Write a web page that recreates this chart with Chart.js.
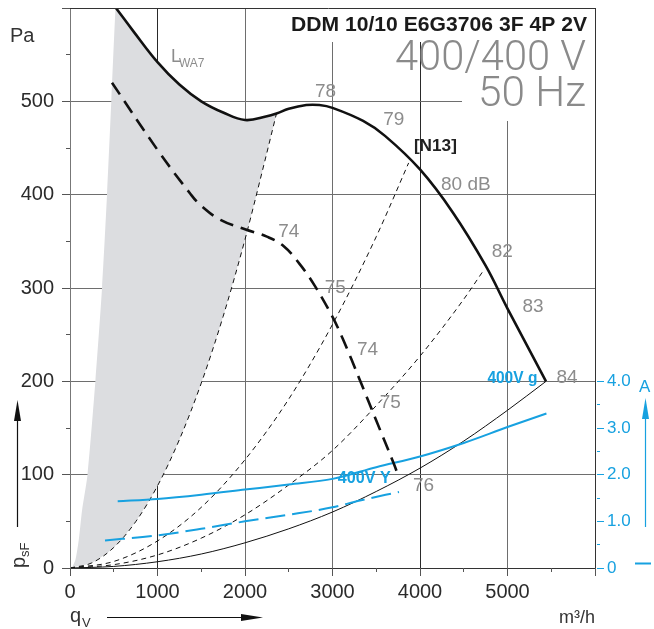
<!DOCTYPE html>
<html><head><meta charset="utf-8">
<script src="https://cdn.jsdelivr.net/npm/chart.js@4.4.1/dist/chart.umd.min.js"></script>
<style>html,body{margin:0;padding:0;background:#fff;}#wrap{width:654px;height:629px;}</style>
</head><body><div id="wrap"><canvas id="c" width="654" height="629"></canvas></div>
<script>
// ---- data ----
// fan curve, high speed (m3/h, Pa)
const flowMain  = [525, 725, 1000, 1250, 1500, 1750, 2000, 2250, 2360, 2500, 2700, 2850, 3000, 3350, 3600, 4000, 4375, 4750, 5000, 5440];
const pressMain = [600, 575, 542, 518, 500, 488, 480, 484, 487, 492, 496, 496, 493, 479, 463, 427, 381, 324, 278, 200];
// fan curve, low speed (dashed)
const flowLow  = [480, 1000, 1375, 1500, 1720, 2000, 2250, 2440, 2630, 2800, 3000, 3120, 3310, 3500, 3700, 3755];
const pressLow = [520, 448, 401, 388, 373, 363, 355, 345, 325, 302, 269, 245, 202, 158, 112, 98];
// system curves
const flowSysA  = [0, 250, 500, 750, 1000, 1250, 1500, 1750, 2000, 2200, 2360];
const pressSysA = [0, 5.5, 22, 49.5, 88, 137.5, 198, 269.5, 352, 426, 487];
const flowSysB  = [0, 500, 1000, 1500, 2000, 2500, 3000, 3500, 3870];
const pressSysB = [0, 7, 29, 65, 116, 181, 261, 355, 434];
const flowSysC  = [0, 500, 1000, 1500, 2000, 2500, 3000, 3500, 4000, 4500, 4720];
const pressSysC = [0, 3.6, 14, 32, 57, 89, 126, 174, 227, 288, 318];
const flowSysD  = [0, 500, 1000, 1500, 2000, 2500, 3000, 3500, 4000, 4500, 5000, 5440];
const pressSysD = [0, 1.7, 6.7, 15, 27, 42, 60, 82, 107, 136, 169, 200];
// left limit of the shaded (not permitted) zone
const flowLimit  = [0, 30, 63, 100, 138, 200, 290, 366, 423, 472, 520];
const pressLimit = [0, 2, 9, 30, 62, 100, 200, 300, 400, 500, 600];
// current (A)
const flowAmpHigh = [545, 1000, 1500, 2000, 2500, 3000, 3500, 4000, 4500, 5000, 5445];
const ampHigh     = [1.43, 1.48, 1.57, 1.68, 1.79, 1.91, 2.16, 2.39, 2.68, 3.02, 3.31];
const flowAmpLow  = [400, 1000, 1500, 2000, 2500, 3000, 3300, 3760];
const ampLow      = [0.59, 0.70, 0.84, 1.00, 1.14, 1.30, 1.44, 1.63];
// axis labels
const xTickLabels = [0, 1000, 2000, 3000, 4000, 5000];
const yTickLabels = [0, 100, 200, 300, 400, 500];
const ampTickLabels = [0, 1, 2, 3, 4];
// annotations
const dbLabels = [
  {t:'78', x:2800, y:505}, {t:'79', x:3580, y:475}, {t:'80 dB', x:4240, y:405},
  {t:'74', x:2380, y:355}, {t:'75', x:2910, y:295}, {t:'82', x:4820, y:333},
  {t:'83', x:5170, y:274}, {t:'74', x:3280, y:228}, {t:'75', x:3540, y:171},
  {t:'84', x:5560, y:198}, {t:'76', x:3920, y:82}
];

const BLUE = '#17a1e0', GRAYTXT = '#8c8c8c', F = "'Liberation Sans', Arial, sans-serif";
const pts = (xs, ys) => xs.map((x, i) => ({x, y: ys[i]}));

const grayShape = [
  ...pts(flowLimit, pressLimit),
  ...pts(flowMain, pressMain).filter(p => p.x <= 2360),
  ...pts(flowSysA, pressSysA).reverse()
];

function txt(c, s, x, y, font, color, align, width) {
  c.save(); c.font = font; c.fillStyle = color; c.textBaseline = 'alphabetic'; c.textAlign = align || 'left';
  if (width) { const w = c.measureText(s).width; c.translate(x, y); c.scale(width / w, 1); c.fillText(s, 0, 0); }
  else c.fillText(s, x, y);
  c.restore();
}
function seg(c, x1, y1, x2, y2) { c.beginPath(); c.moveTo(x1, y1); c.lineTo(x2, y2); c.stroke(); }
const al = v => Math.round(v - 0.5) + 0.5;
const noPad = s => { s.paddingTop = 0; s.paddingBottom = 0; s.paddingLeft = 0; s.paddingRight = 0; };

const decor = {
  id: 'decor',
  beforeDatasetsDraw(chart) {
    const c = chart.ctx; c.save(); c.fillStyle = '#fff';
    c.fillRect(286, 9, 309, 33);
    c.fillRect(462, 42, 133, 79);
    c.restore();
  },
  afterDraw(chart) {
    const c = chart.ctx, xs = chart.scales.x, ys = chart.scales.y, y2 = chart.scales.y2, a = chart.chartArea;
    c.save();
    // frame
    c.lineWidth = 1;
    c.strokeStyle = '#777'; seg(c, al(a.left), a.top, al(a.left), a.bottom);
    c.strokeStyle = '#333';
    seg(c, 62, al(a.top), a.right, al(a.top));
    seg(c, al(a.right), a.top, al(a.right), a.bottom + 8);
    seg(c, a.left, al(a.bottom), a.right, al(a.bottom));
    // ticks
    c.strokeStyle = '#555';
    for (let v = 0; v <= 6000; v += 500) { const p = al(xs.getPixelForValue(v)); seg(c, p, a.bottom, p, a.bottom + (v % 1000 === 0 ? 8 : 4)); }
    for (let v = 0; v <= 600; v += 50) { const p = al(ys.getPixelForValue(v)); seg(c, a.left, p, a.left - (v % 100 === 0 ? 8 : 4), p); }
    c.strokeStyle = BLUE;
    for (let v = 0; v <= 4; v += 0.5) { const p = al(y2.getPixelForValue(v)); seg(c, a.right + 2, p, a.right + (Number.isInteger(v) ? 9 : 5), p); }
    // titles
    txt(c, 'DDM 10/10 E6G3706 3F 4P 2V', 587, 31, 'bold 21px ' + F, '#1a1a1a', 'right', 296);
    txt(c, '400/400 V', 586, 70, "300 43px Roboto, " + F, '#8a8a8a', 'right', 191);
    txt(c, '50 Hz', 586, 106, "300 43px Roboto, " + F, '#8a8a8a', 'right', 108);
    // axis names
    txt(c, 'Pa', 10, 42, '20px ' + F, '#333');
    txt(c, 'q', 70, 622, '20px ' + F, '#333');
    txt(c, 'V', 82, 627, '13px ' + F, '#333');
    txt(c, 'm³/h', 595, 623, '18px ' + F, '#333', 'right');
    c.save(); c.translate(25, 568); c.rotate(-Math.PI / 2);
    txt(c, 'p', 0, 0, '20px ' + F, '#333'); txt(c, 'sF', 11, 4, '13px ' + F, '#333');
    c.restore();
    txt(c, 'A', 639, 392, '17px ' + F, BLUE);
    // arrows
    const arrowUp = (x, y0, y1, col) => { c.strokeStyle = col; c.fillStyle = col; c.lineWidth = 1.2; seg(c, x, y0, x, y1 + 10);
      c.beginPath(); c.moveTo(x, y1); c.lineTo(x - 3.5, y1 + 21); c.lineTo(x + 3.5, y1 + 21); c.closePath(); c.fill(); };
    arrowUp(17.5, 527, 400, '#111');
    arrowUp(645.5, 527, 398, BLUE);
    c.strokeStyle = '#111'; c.fillStyle = '#111'; c.lineWidth = 1.2; seg(c, 107, 617.5, 250, 617.5);
    c.beginPath(); c.moveTo(263, 617.5); c.lineTo(241, 614); c.lineTo(241, 621); c.closePath(); c.fill();
    c.strokeStyle = BLUE; c.lineWidth = 2; seg(c, 635, 563.5, 651, 563.5);
    // dB labels
    dbLabels.forEach(l => txt(c, l.t, xs.getPixelForValue(l.x), ys.getPixelForValue(l.y), '19px ' + F, GRAYTXT));
    txt(c, '[N13]', xs.getPixelForValue(3930), ys.getPixelForValue(447), 'bold 17px ' + F, '#222', 'left', 43);
    txt(c, 'L', xs.getPixelForValue(1155), ys.getPixelForValue(542), '18px ' + F, GRAYTXT);
    txt(c, 'WA7', xs.getPixelForValue(1245), ys.getPixelForValue(537), '12px ' + F, GRAYTXT);
    txt(c, '400V g', xs.getPixelForValue(4770), ys.getPixelForValue(198), 'bold 17px ' + F, BLUE, 'left', 50);
    txt(c, '400V Y', xs.getPixelForValue(3060), ys.getPixelForValue(91), 'bold 17px ' + F, BLUE, 'left', 53);
    c.restore();
  }
};

const line = (data, o) => Object.assign({data, pointRadius: 0, fill: false, cubicInterpolationMode: 'monotone', borderColor: '#111', borderWidth: 1, xAxisID: 'x', yAxisID: 'y'}, o);

new Chart(document.getElementById('c'), {
  type: 'line',
  data: { datasets: [
    line(pts(flowMain, pressMain), {borderWidth: 2.6, cubicInterpolationMode: 'default', tension: 0.4, order: 1}),
    line(pts(flowLow, pressLow), {borderWidth: 2.6, borderDash: [14, 8], cubicInterpolationMode: 'default', tension: 0.4, order: 2}),
    line(pts(flowAmpHigh, ampHigh), {borderColor: BLUE, borderWidth: 2, yAxisID: 'y2', order: 3}),
    line(pts(flowAmpLow, ampLow), {borderColor: BLUE, borderWidth: 2, borderDash: [20, 7], yAxisID: 'y2', order: 3}),
    line(pts(flowSysA, pressSysA), {borderDash: [5, 4], order: 5}),
    line(pts(flowSysB, pressSysB), {borderDash: [5, 4], order: 5}),
    line(pts(flowSysC, pressSysC), {borderDash: [5, 4], order: 5}),
    line(pts(flowSysD, pressSysD), {order: 5}),
    line(grayShape, {borderWidth: 0, borderColor: 'rgba(0,0,0,0)', backgroundColor: '#dcdde0', fill: 'shape', cubicInterpolationMode: 'default', tension: 0.25, order: 10})
  ]},
  options: {
    responsive: false, animation: false, events: [], devicePixelRatio: 1,
    layout: { padding: {top: 8, left: 0, right: 0, bottom: 0} },
    plugins: { legend: {display: false}, tooltip: {enabled: false} },
    scales: {
      x: { type: 'linear', min: 0, max: 6000, afterFit: s => { s.height = 61; noPad(s); },
        border: {display: false},
        grid: { drawTicks: false, color: c => { const v = c.tick && c.tick.value; return (v > 0 && v < 6000 && v % 1000 === 0) ? ((v === 1000 || v === 4000) ? '#2a2a2a' : '#6e6e6e') : 'rgba(0,0,0,0)'; } },
        ticks: { stepSize: 500, autoSkip: false, maxRotation: 0, padding: 12, color: '#2b2b2b', font: {family: F, size: 20},
          callback: v => xTickLabels.includes(v) ? String(v) : '' } },
      y: { type: 'linear', position: 'left', min: 0, max: 600, afterFit: s => { s.width = 70; noPad(s); },
        border: {display: false},
        grid: { drawTicks: false, color: c => { const v = c.tick && c.tick.value; return (v > 0 && v < 600 && v % 100 === 0) ? '#6e6e6e' : 'rgba(0,0,0,0)'; } },
        ticks: { stepSize: 50, autoSkip: false, padding: 16, color: '#2b2b2b', font: {family: F, size: 20},
          callback: v => yTickLabels.includes(v) ? String(v) : '' } },
      y2: { type: 'linear', position: 'right', min: 0, max: 12, afterFit: s => { s.width = 59; noPad(s); },
        border: {display: false}, grid: { display: false, drawTicks: false },
        ticks: { stepSize: 0.5, autoSkip: false, padding: 12, color: BLUE, font: {family: F, size: 17},
          callback: v => ampTickLabels.includes(v) ? (v === 0 ? '0' : v.toFixed(1)) : '' } }
    }
  },
  plugins: [decor]
});
</script></body></html>
